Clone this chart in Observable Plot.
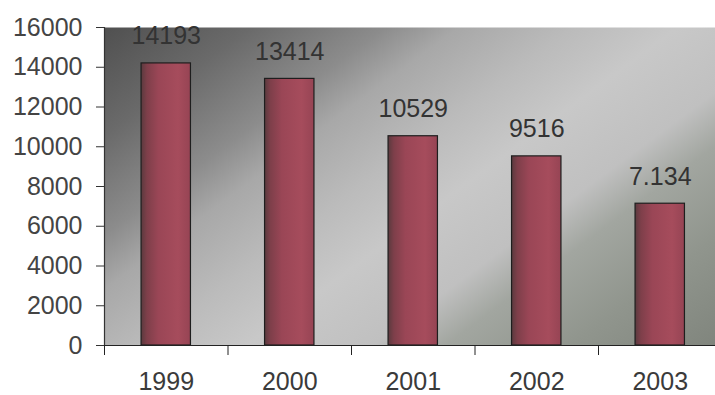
<!DOCTYPE html>
<html>
<head>
<meta charset="utf-8">
<script src="https://cdn.jsdelivr.net/npm/d3@7"></script>
<script src="https://cdn.jsdelivr.net/npm/@observablehq/plot@0.6"></script>
<style>
  html, body { margin: 0; padding: 0; background: #ffffff; }
  #chart { width: 715px; height: 395px; overflow: hidden; }
</style>
</head>
<body>
<div id="chart"></div>
<script>
// ---- data ----
const years = ["1999", "2000", "2001", "2002", "2003"];
const values = [14193, 13414, 10529, 9516, 7134];
const valueLabels = ["14193", "13414", "10529", "9516", "7.134"];
const yTicks = [0, 2000, 4000, 6000, 8000, 10000, 12000, 14000, 16000];

const data = years.map((year, i) => ({ year, i, value: values[i], label: valueLabels[i] }));
const labelTicks = years.map((_, i) => i + 0.5);
const boundaryTicks = years.map((_, i) => i).concat([years.length]);

// gradient definitions (styling only)
function defsMark() {
  const defs = d3.create("svg:defs");
  const bg = defs.append("linearGradient")
    .attr("id", "bgGrad")
    .attr("gradientUnits", "userSpaceOnUse")
    .attr("x1", 104).attr("y1", 27).attr("x2", 472).attr("y2", 525);
  [
    [0, "#505050"], [0.14, "#6a6a6a"], [0.27, "#8c8c8c"], [0.34, "#a8a8a8"],
    [0.45, "#bbbbbb"], [0.55, "#c8c8c8"], [0.67, "#c0c0c0"], [0.74, "#a2a6a0"],
    [0.86, "#90958d"], [1, "#80857d"]
  ].forEach(([o, c]) => bg.append("stop").attr("offset", o).attr("stop-color", c));
  const bar = defs.append("linearGradient")
    .attr("id", "barGrad")
    .attr("x1", 0).attr("y1", 0).attr("x2", 1).attr("y2", 0);
  [
    [0, "#5a3a3e"], [0.12, "#7e3f4a"], [0.35, "#9a4656"], [0.75, "#a64c5c"], [1, "#964454"]
  ].forEach(([o, c]) => bar.append("stop").attr("offset", o).attr("stop-color", c));
  return defs.node();
}

const chart = Plot.plot({
  width: 715,
  height: 395,
  marginLeft: 104,
  marginRight: 0,
  marginTop: 27,
  marginBottom: 50,
  style: {
    fontFamily: "'Liberation Sans', Arial, sans-serif",
    fontSize: "25px",
    color: "#3a3a3a",
    background: "transparent"
  },
  x: { type: "linear", domain: [0, years.length], range: [104, 721.5] },
  y: { domain: [0, 16000], range: [345, 27] },
  marks: [
    defsMark,
    Plot.frame({ fill: "url(#bgGrad)", stroke: "none" }),
    Plot.rectY(data, {
      x1: d => d.i + 0.3,
      x2: d => d.i + 0.7,
      y1: 0,
      y2: "value",
      fill: "url(#barGrad)",
      stroke: "#1e1e1e",
      strokeWidth: 1.2
    }),
    Plot.text(data, {
      x: d => d.i + 0.5,
      y: "value",
      text: "label",
      lineAnchor: "bottom",
      dy: -19,
      fill: "#333333",
      fontSize: 25
    }),
    Plot.ruleY([0], { stroke: "#222", strokeWidth: 1.2, insetLeft: -8 }),
    Plot.ruleX([0], { stroke: "#333", strokeWidth: 1.2 }),
    Plot.axisY({
      ticks: yTicks,
      tickSize: 8,
      tickPadding: 14,
      tickFormat: d => String(d),
      stroke: "#333",
      fill: "#444",
      label: null
    }),
    Plot.axisX({
      ticks: labelTicks,
      tickSize: 0,
      tickPadding: 27,
      tickFormat: v => years[Math.floor(v)],
      fill: "#3a3a3a",
      label: null
    }),
    Plot.axisX({
      ticks: boundaryTicks,
      tickSize: 10,
      tickFormat: () => "",
      stroke: "#222",
      label: null
    })
  ]
});

document.getElementById("chart").appendChild(chart);
</script>
</body>
</html>
